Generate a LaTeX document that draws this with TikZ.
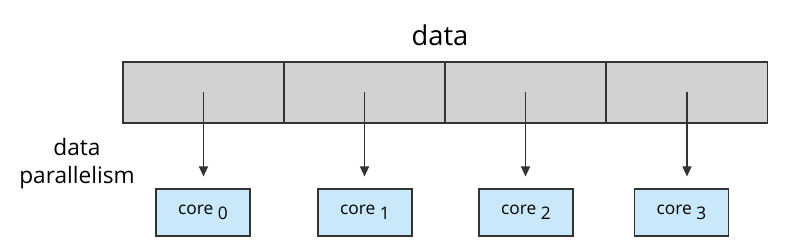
\documentclass[tikz,border=0pt]{standalone}
\usepackage{fontspec}
\setmainfont{Open Sans}
\usetikzlibrary{arrows.meta}
\definecolor{cellgray}{HTML}{D1D2D4}
\definecolor{coreblue}{HTML}{C9E9FA}
\definecolor{inkgray}{HTML}{333333}
\newcommand{\coreno}[1]{core \raisebox{-3.5pt}{#1}}
\begin{document}
\begin{tikzpicture}[x=0.75pt,y=-0.75pt,line width=0.8pt,
		cell/.style={draw=inkgray,fill=cellgray,minimum width=120.75pt,minimum height=45.75pt,inner sep=0pt},
		corebox/.style={draw=inkgray,fill=coreblue,minimum width=70.5pt,minimum height=35.25pt,inner sep=0pt,font=\fontsize{13}{15}\selectfont},
		feed/.style={-{Triangle[length=7.5pt,width=6.75pt]},draw=inkgray}]
		\useasboundingbox (0,0) rectangle (800,246);
		
		% Title
		\node[anchor=base,font=\fontsize{20.5}{24}\selectfont] (title) at (440,46) {data};
		
		% Data array
		\node[cell] (cell0) at (203.5,92.5) {};
		\node[cell] (cell1) at (364.5,92.5) {};
		\node[cell] (cell2) at (525.5,92.5) {};
		\node[cell] (cell3) at (687,92.5) {};
		
		% Cores
		\node[corebox] (core0) at (203,212.5) {\coreno{0}};
		\node[corebox] (core1) at (365,212.5) {\coreno{1}};
		\node[corebox] (core2) at (526,212.5) {\coreno{2}};
		\node[corebox] (core3) at (681.5,212.5) {\coreno{3}};
		
		% Side label
		\node[align=center,font=\fontsize{17}{21}\selectfont] (label) at (77,164) {data\\parallelism};
		
		% Data to cores
		\draw[feed,shorten >=9pt] (cell0.center) -- (cell0.center |- core0.north);
		\draw[feed,shorten >=9pt] (cell1.center) -- (cell1.center |- core1.north);
		\draw[feed,shorten >=9pt] (cell2.center) -- (cell2.center |- core2.north);
		\draw[feed,shorten >=9pt] (cell3.center) -- (cell3.center |- core3.north);
		
	\end{tikzpicture}
\end{document}
